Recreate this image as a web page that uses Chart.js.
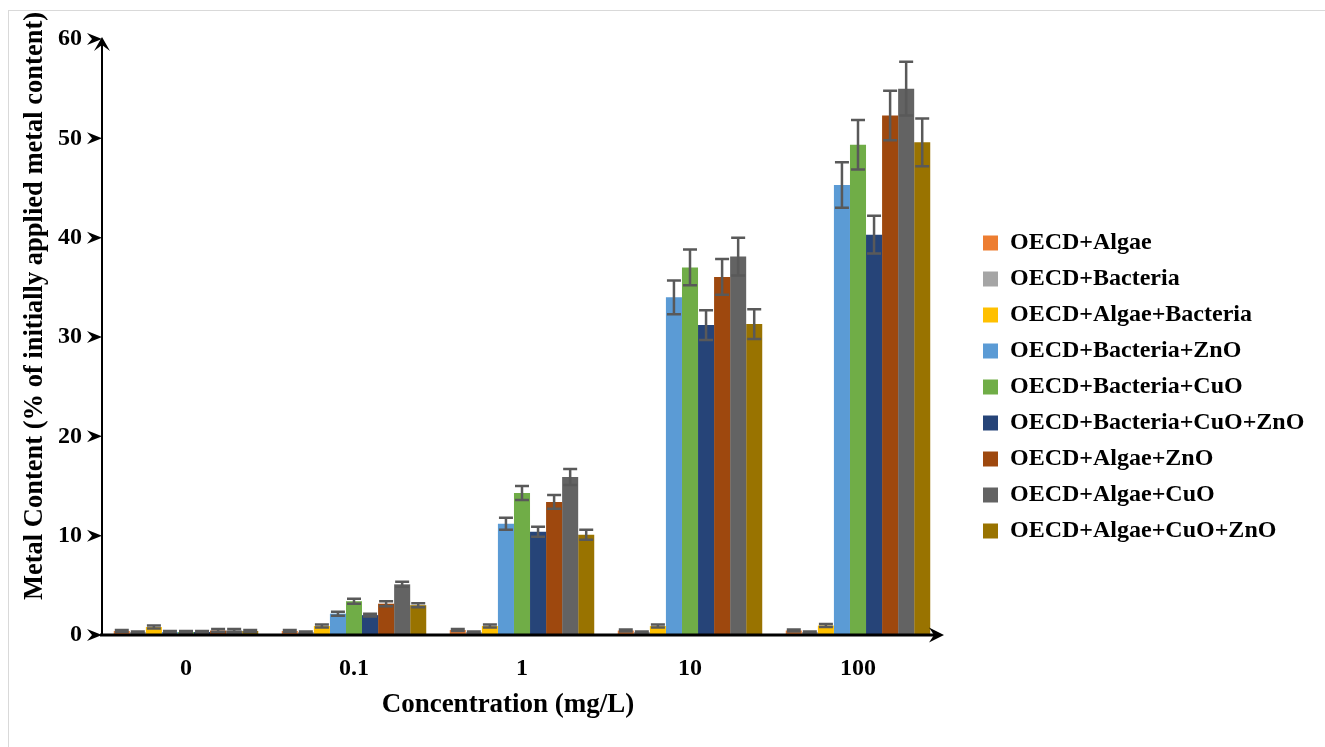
<!DOCTYPE html>
<html>
<head>
<meta charset="utf-8">
<script src="https://cdn.jsdelivr.net/npm/chart.js@4"></script>
<style>
  body { margin: 0; overflow: hidden; background: #fff; }
  #frame { position: absolute; left: 8px; top: 10px; width: 1330px; height: 760px; border: 1px solid #d9d9d9; }
  #metalChart { position: absolute; left: 0; top: 0; }
</style>
</head>
<body>
<div id="frame"></div>
<canvas id="metalChart" width="1325" height="747"></canvas>
<script>
const labels = ['0', '0.1', '1', '10', '100'];

const seriesNames = [
  'OECD+Algae', 'OECD+Bacteria', 'OECD+Algae+Bacteria',
  'OECD+Bacteria+ZnO', 'OECD+Bacteria+CuO', 'OECD+Bacteria+CuO+ZnO',
  'OECD+Algae+ZnO', 'OECD+Algae+CuO', 'OECD+Algae+CuO+ZnO'
];
const colors = ['#ED7D31', '#A5A5A5', '#FFC000', '#5B9BD5', '#70AD47', '#264478', '#9E480E', '#636363', '#997300'];

// mean values (% of initially applied metal content)
const algae = [0.4, 0.4, 0.5, 0.45, 0.45];
const bacteria = [0.3, 0.3, 0.3, 0.3, 0.3];
const algaeBacteria = [0.8, 0.9, 0.9, 0.9, 0.95];
const bacteriaZnO = [0.3, 2.15, 11.2, 34.0, 45.3];
const bacteriaCuO = [0.3, 3.4, 14.3, 37.0, 49.35];
const bacteriaCuOZnO = [0.3, 2.0, 10.4, 31.2, 40.3];
const algaeZnO = [0.45, 3.15, 13.4, 36.05, 52.3];
const algaeCuO = [0.45, 5.1, 15.9, 38.1, 55.0];
const algaeCuOZnO = [0.4, 3.0, 10.1, 31.3, 49.6];

// error bars (+/-)
const algaeErr = [0.1, 0.1, 0.1, 0.1, 0.1];
const bacteriaErr = [0.05, 0.05, 0.05, 0.05, 0.05];
const algaeBacteriaErr = [0.15, 0.15, 0.15, 0.15, 0.15];
const bacteriaZnOErr = [0.1, 0.2, 0.6, 1.7, 2.3];
const bacteriaCuOErr = [0.1, 0.25, 0.7, 1.8, 2.5];
const bacteriaCuOZnOErr = [0.1, 0.15, 0.5, 1.5, 1.9];
const algaeZnOErr = [0.15, 0.25, 0.7, 1.8, 2.5];
const algaeCuOErr = [0.15, 0.25, 0.8, 1.9, 2.7];
const algaeCuOZnOErr = [0.1, 0.2, 0.5, 1.5, 2.4];

const yTicks = [0, 10, 20, 30, 40, 50, 60];
const xTitle = 'Concentration (mg/L)';
const yTitle = 'Metal Content (% of initially applied metal content)';

const values = [algae, bacteria, algaeBacteria, bacteriaZnO, bacteriaCuO, bacteriaCuOZnO, algaeZnO, algaeCuO, algaeCuOZnO];
const errors = [algaeErr, bacteriaErr, algaeBacteriaErr, bacteriaZnOErr, bacteriaCuOErr, bacteriaCuOZnOErr, algaeZnOErr, algaeCuOErr, algaeCuOZnOErr];

const fontFamily = "'Liberation Serif', 'Times New Roman', serif";

function stealth(ctx, tip, back, half, notch, dir) {
  // dir: 'up' or 'right'
  ctx.beginPath();
  if (dir === 'up') {
    ctx.moveTo(tip.x, tip.y);
    ctx.lineTo(tip.x - half, tip.y + back);
    ctx.lineTo(tip.x, tip.y + notch);
    ctx.lineTo(tip.x + half, tip.y + back);
  } else {
    ctx.moveTo(tip.x, tip.y);
    ctx.lineTo(tip.x - back, tip.y - half);
    ctx.lineTo(tip.x - notch, tip.y);
    ctx.lineTo(tip.x - back, tip.y + half);
  }
  ctx.closePath();
  ctx.fill();
}

const errorBars = {
  id: 'errorBars',
  afterDatasetsDraw(chart) {
    const ctx = chart.ctx;
    const y = chart.scales.y;
    ctx.save();
    ctx.strokeStyle = '#595959';
    ctx.lineWidth = 2.5;
    chart.data.datasets.forEach((ds, d) => {
      const meta = chart.getDatasetMeta(d);
      meta.data.forEach((bar, i) => {
        const v = ds.data[i];
        const e = errors[d][i];
        const top = y.getPixelForValue(v + e);
        const bot = y.getPixelForValue(Math.max(v - e, 0));
        ctx.beginPath();
        ctx.moveTo(bar.x, top);
        ctx.lineTo(bar.x, bot);
        ctx.moveTo(bar.x - 7, top);
        ctx.lineTo(bar.x + 7, top);
        ctx.moveTo(bar.x - 7, bot);
        ctx.lineTo(bar.x + 7, bot);
        ctx.stroke();
      });
    });
    ctx.restore();
  }
};

const axesArrows = {
  id: 'axesArrows',
  afterLayout(chart) {
    // place the legend block where it sits in the original figure
    const lg = chart.legend;
    lg.left = 971; lg.right = 1325;
    lg.top = 219; lg.bottom = 747;
  },
  afterDatasetsDraw(chart) {
    const ctx = chart.ctx;
    const {left, right, bottom} = chart.chartArea;
    const y = chart.scales.y;
    const top60 = y.getPixelForValue(60);
    ctx.save();
    ctx.fillStyle = '#000';
    ctx.strokeStyle = '#000';
    // y axis
    ctx.lineWidth = 2;
    ctx.beginPath();
    ctx.moveTo(left, bottom + 1);
    ctx.lineTo(left, top60 + 4);
    ctx.stroke();
    stealth(ctx, {x: left, y: top60 - 2}, 14, 8, 8, 'up');
    // x axis
    ctx.lineWidth = 3;
    ctx.beginPath();
    ctx.moveTo(left - 2, bottom);
    ctx.lineTo(right - 6, bottom);
    ctx.stroke();
    stealth(ctx, {x: right + 2, y: bottom}, 15, 7.5, 10, 'right');
    // y tick chevrons
    yTicks.forEach(t => {
      const py = y.getPixelForValue(t);
      stealth(ctx, {x: left, y: py}, 15, 6, 10, 'right');
    });
    // axis titles
    ctx.textAlign = 'center';
    ctx.textBaseline = 'middle';
    ctx.font = 'bold 27px ' + fontFamily;
    ctx.fillText(xTitle, 508, 705);
    ctx.translate(35, 306);
    ctx.rotate(-Math.PI / 2);
    ctx.font = 'bold 26.5px ' + fontFamily;
    ctx.fillText(yTitle, 0, 0);
    ctx.restore();
  }
};

const datasets = seriesNames.map((name, i) => ({
  label: name,
  data: values[i],
  backgroundColor: colors[i],
  borderWidth: 0,
  categoryPercentage: 0.86,
  barPercentage: 1.0
}));

Chart.defaults.color = '#000';
Chart.defaults.font.family = fontFamily;

new Chart(document.getElementById('metalChart'), {
  type: 'bar',
  data: { labels, datasets },
  options: {
    responsive: false,
    animation: false,
    layout: { padding: { top: 39, right: 83, bottom: 26, left: 0 } },
    plugins: {
      tooltip: { enabled: false },
      legend: {
        position: 'right',
        align: 'start',
        maxWidth: 300,
        labels: {
          boxWidth: 15,
          boxHeight: 15,
          padding: 12,
          color: '#000',
          font: { family: fontFamily, size: 24, weight: 'bold' }
        }
      }
    },
    scales: {
      x: {
        grid: { display: false, drawTicks: false },
        border: { display: false },
        ticks: { padding: 19, font: { family: fontFamily, size: 24, weight: 'bold' }, color: '#000' },
        afterFit: s => { s.height = 86; }
      },
      y: {
        min: 0,
        max: 60,
        grid: { display: false, drawTicks: false },
        border: { display: false },
        afterBuildTicks: s => { s.ticks = yTicks.map(v => ({ value: v })); },
        ticks: { padding: 20, font: { family: fontFamily, size: 24, weight: 'bold' }, color: '#000' },
        afterFit: s => { s.width = 102; }
      }
    }
  },
  plugins: [errorBars, axesArrows]
});
</script>
</body>
</html>
